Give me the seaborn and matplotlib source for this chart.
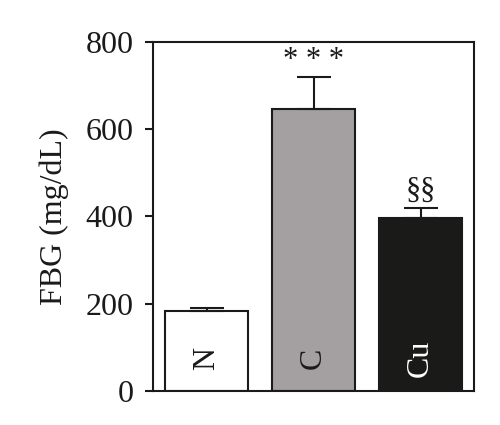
import matplotlib
matplotlib.use("Agg")
import matplotlib.pyplot as plt
import seaborn as sns
import pandas as pd

groups = ["N", "C", "Cu"]
means = [183, 646, 397]
errs = [6, 74, 22]
marks = ["", "* * *", "§§"]
colors = ["#ffffff", "#a59e9f", "#1a1a18"]
label_colors = ["#1a1a1a", "#1a1a1a", "#ffffff"]

sns.set_style("ticks")
plt.rcParams['font.family'] = ['Liberation Serif', 'DejaVu Serif']

fig = plt.figure(figsize=(5, 4.25), dpi=100)
ax = fig.add_axes([0.306, 0.08, 0.642, 0.822])
df = pd.DataFrame({"g": groups, "v": means})
sns.barplot(data=df, x="g", y="v", hue="g", palette=colors, legend=False,
            width=0.77, edgecolor="#1a1a1a", linewidth=1.5, ax=ax)
for i, (m, e) in enumerate(zip(means, errs)):
    ax.errorbar(i, m, yerr=[[0], [e]], color="#1a1a1a", capsize=12, capthick=1.5, elinewidth=1.5)
    if marks[i]:
        ax.text(i, m + e + 4, marks[i], ha="center", va="bottom", fontsize=22, color="#1a1a1a")
    ax.text(i, 75, groups[i], rotation=90, ha="center", va="center", fontsize=23, color=label_colors[i])
ax.set_xlim(-0.5, 2.5)
ax.set_ylim(0, 800)
ax.set_yticks([0, 200, 400, 600, 800])
ax.set_xticks([])
ax.set_xlabel("")
ax.set_ylabel("FBG (mg/dL)", fontsize=23, color="#1a1a1a", labelpad=12)
ax.tick_params(axis="y", labelsize=23, direction="out", length=6, width=1.5, colors="#1a1a1a", pad=8)
for s in ax.spines.values():
    s.set_linewidth(1.5)
    s.set_color("#1a1a1a")
fig.savefig("out.png", dpi=100)
